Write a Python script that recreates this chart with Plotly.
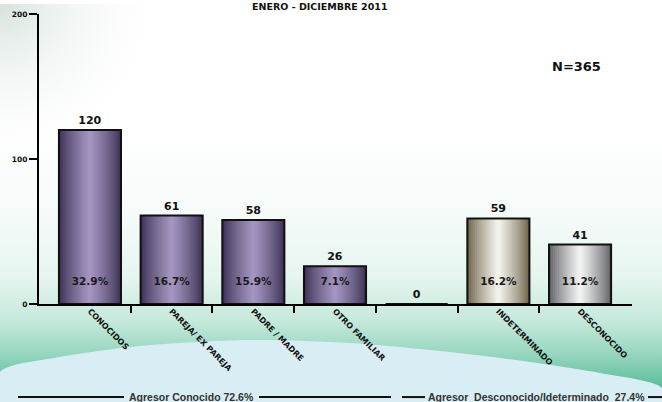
import plotly.graph_objects as go
import numpy as np

# ---------------- data ----------------
categories = ["CONOCIDOS", "PAREJA/ EX PAREJA", "PADRE / MADRE", "OTRO FAMILIAR", "",
              "INDETERMINADO", "DESCONOCIDO"]
values = [120, 61, 58, 26, 0, 59, 41]
percents = ["32.9%", "16.7%", "15.9%", "7.1%", "", "16.2%", "11.2%"]
y_ticks = [0, 100, 200]
title_text = "ENERO - DICIEMBRE 2011"
n_text = "N=365"
group_left = "Agresor Conocido 72.6%"
group_right = "Agresor\u00a0\u00a0Desconocido/Ideterminado\u00a0\u00a027.4%"

# ---------------- styles ----------------
W, H = 662, 402          # reference picture coordinates
FIG_H = 412              # figure height
REF_TOP, SCALE = 4.0, 0.978   # how figure rows land in the captured picture
edge_cols = ["#3c3254", "#3c3254", "#3c3254", "#3c3254", "#3c3254", "#6e6449", "#5f6166"]
center_cols = ["#a89ac6", "#a89ac6", "#a89ac6", "#a89ac6", "#a89ac6", "#faf9f3", "#f9f9f9"]
BAR_W = 0.76
PCT_Y = 15
FONT = "DejaVu Sans"
x_pos = list(range(len(categories)))


def hex2rgb(h):
    h = h.lstrip("#")
    return [int(h[i:i + 2], 16) for i in (0, 2, 4)]


def mix(c1, c2, t):
    a, b = hex2rgb(c1), hex2rgb(c2)
    return "rgb(%d,%d,%d)" % tuple(round(a[i] + (b[i] - a[i]) * t) for i in range(3))


def frac(y_ref):
    """paper fraction (from bottom) for a picture row"""
    return 1 - ((y_ref - REF_TOP) / SCALE) / FIG_H


bg_range = [REF_TOP + SCALE * FIG_H, REF_TOP]
Y_BOT = bg_range[0]

fig = go.Figure()

# ---------------- background (picture-coordinate subplot) ----------------
fig.add_trace(go.Scatter(
    x=[0, W, W, 0, 0], y=[120, 120, Y_BOT, Y_BOT, 120], mode="lines", fill="toself",
    line=dict(width=0), hoverinfo="skip", showlegend=False,
    fillgradient=dict(type="vertical", start=130, stop=385,
                      colorscale=[[0, "#ffffff"], [0.3, "#f6fbf9"], [0.55, "#e6f5ef"],
                                  [0.72, "#c6e9dc"], [0.86, "#92d4bc"], [1, "#4fb894"]]),
    xaxis="x", yaxis="y"))
theta = np.linspace(0, 2 * np.pi, 60)
fig.add_trace(go.Scatter(
    x=list(170 * np.cos(theta)), y=list(170 * np.sin(theta)), mode="lines", fill="toself",
    line=dict(width=0), hoverinfo="skip", showlegend=False,
    fillgradient=dict(type="radial",
                      colorscale=[[0, "rgba(214,226,220,1)"], [1, "rgba(255,255,255,0)"]]),
    xaxis="x", yaxis="y"))
dome_x = [0, 60, 140, 250, 350, 450, 530, 600, 662, 662, 0, 0]
dome_y = [372, 357, 346, 340, 343, 352, 362, 373, 388, Y_BOT, Y_BOT, 372]
fig.add_trace(go.Scatter(
    x=dome_x, y=dome_y, mode="lines", fill="toself", line=dict(width=0, shape="spline", smoothing=0.8),
    fillcolor="#d8eef4", hoverinfo="skip", showlegend=False, xaxis="x", yaxis="y"))

# ---------------- bars (gradient by stacked overlay layers) ----------------
N = 16
for k in range(N):
    d = 1 - k / N
    t = (1 - d) ** 0.8
    cols = [mix(e, c, t) for e, c in zip(edge_cols, center_cols)]
    fig.add_trace(go.Bar(
        x=x_pos, y=values, width=BAR_W * d, marker=dict(color=cols, line=dict(width=0)),
        hoverinfo="skip", showlegend=False, xaxis="x2", yaxis="y2"))

fig.add_trace(go.Bar(
    x=x_pos, y=values, width=BAR_W,
    marker=dict(color="rgba(0,0,0,0)", line=dict(color="#111111", width=2)),
    text=[str(v) for v in values], textposition="outside", cliponaxis=False,
    textfont=dict(family=FONT, size=11, color="#111111", weight="bold"),
    hoverinfo="skip", showlegend=False, xaxis="x2", yaxis="y2"))

fig.add_trace(go.Scatter(
    x=x_pos, y=[PCT_Y] * len(x_pos), mode="text", text=percents,
    textfont=dict(family=FONT, size=10.5, color="#1a1a1a", weight="bold"),
    hoverinfo="skip", showlegend=False, xaxis="x2", yaxis="y2", cliponaxis=False))

fig.add_trace(go.Scatter(x=x_pos, y=[0] * len(x_pos), mode="markers",
                         marker=dict(opacity=0), hoverinfo="skip", showlegend=False,
                         xaxis="x3", yaxis="y2"))

x_lo = 39 / W
x_hi = 632 / W
y_lo = frac(304)
y_hi = frac(14)
xr = [-0.624, 6.636]

fig.update_layout(
    width=W, height=FIG_H, margin=dict(l=0, r=0, t=0, b=0),
    paper_bgcolor="white", plot_bgcolor="rgba(0,0,0,0)",
    barmode="overlay", showlegend=False,
    xaxis=dict(domain=[0, 1], range=[0, W], visible=False, fixedrange=True),
    yaxis=dict(domain=[0, 1], range=bg_range, visible=False, fixedrange=True),
    xaxis2=dict(domain=[x_lo, x_hi], range=xr, anchor="y2",
                tickmode="array", tickvals=[i + 0.5 for i in range(len(categories) - 1)],
                ticktext=[""] * (len(categories) - 1),
                ticks="outside", ticklen=7, tickwidth=2, tickcolor="#000",
                showline=True, linewidth=2, linecolor="#000",
                showgrid=False, zeroline=False, fixedrange=True),
    xaxis3=dict(overlaying="x2", range=xr, anchor="y2", side="bottom",
                tickmode="array", tickvals=x_pos, ticktext=categories, tickangle=45,
                ticks="", showline=False, showgrid=False, zeroline=False,
                tickfont=dict(family=FONT, size=8, color="#111", weight="bold"),
                fixedrange=True),
    yaxis2=dict(domain=[y_lo, y_hi], range=[0, 200], anchor="x2",
                tickmode="array", tickvals=y_ticks, ticktext=[str(v) for v in y_ticks],
                ticks="outside", ticklen=8, tickwidth=2, tickcolor="#000",
                showline=True, linewidth=2, linecolor="#000",
                tickfont=dict(family=FONT, size=7.5, color="#111", weight="bold"),
                showgrid=False, zeroline=False, fixedrange=True),
)

fig.add_annotation(x=320, y=6.5, xref="x", yref="y", text=title_text, showarrow=False,
                   font=dict(family=FONT, size=9.5, color="#111", weight="bold"),
                   xanchor="center", yanchor="middle")
fig.add_annotation(x=576, y=66, xref="x", yref="y", text=n_text, showarrow=False,
                   font=dict(family=FONT, size=13, color="#111", weight="bold"),
                   xanchor="center", yanchor="middle")
fig.add_annotation(x=191, y=396.5, xref="x", yref="y", text=group_left, showarrow=False,
                   font=dict(family="Liberation Sans", size=10.5, color="#333", weight="bold"),
                   xanchor="center", yanchor="middle")
fig.add_annotation(x=536, y=396.5, xref="x", yref="y", text=group_right, showarrow=False,
                   font=dict(family="Liberation Sans", size=10.5, color="#333", weight="bold"),
                   xanchor="center", yanchor="middle")
for x0, x1 in [(18, 124), (259, 391), (402, 425), (648, 662)]:
    fig.add_shape(type="line", x0=x0, x1=x1, y0=397, y1=397, xref="x", yref="y",
                  line=dict(color="#111", width=2))

fig.write_html("out.html", config={"displayModeBar": False},
               post_script="document.body.style.margin='0';")
